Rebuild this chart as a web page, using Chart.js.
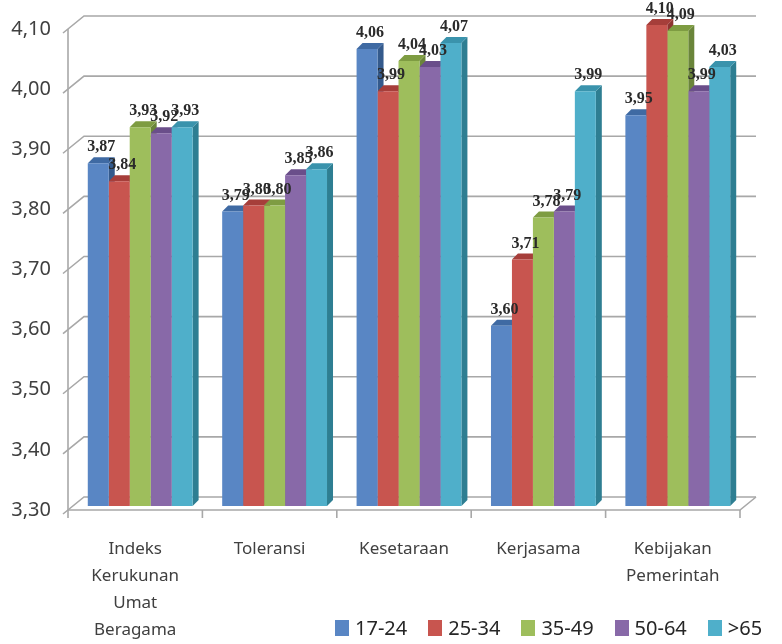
<!DOCTYPE html>
<html><head><meta charset="utf-8">
<script src="https://cdn.jsdelivr.net/npm/chart.js@4"></script>
<style>
html,body{margin:0;padding:0;background:#fff;}
#wrap{position:relative;width:782px;height:644px;overflow:hidden;}
#legend{position:absolute;left:335px;top:617px;display:flex;font-family:'Noto Sans',sans-serif;font-size:20px;line-height:22px;color:#262626;white-space:nowrap;}
.item{display:flex;align-items:center;margin-right:21px;}
.box{width:14px;height:16px;margin-right:6px;}
</style></head><body>
<div id="wrap"><canvas id="c" width="782" height="644"></canvas><div id="legend"></div></div>
<script>
const categories = [['Indeks','Kerukunan','Umat','Beragama'], 'Toleransi', 'Kesetaraan', 'Kerjasama', ['Kebijakan','Pemerintah']];
const seriesNames = ['17-24', '25-34', '35-49', '50-64', '>65'];
const age17_24 = [3.87, 3.79, 4.06, 3.60, 3.95];
const age25_34 = [3.84, 3.80, 3.99, 3.71, 4.10];
const age35_49 = [3.93, 3.80, 4.04, 3.78, 4.09];
const age50_64 = [3.92, 3.85, 4.03, 3.79, 3.99];
const age65 = [3.93, 3.86, 4.07, 3.99, 4.03];
const yMin = 3.30, yMax = 4.10, yStep = 0.10;

const seriesValues = [age17_24, age25_34, age35_49, age50_64, age65];
const frontColors = ['#5986C4', '#C8554F', '#9EBE5C', '#8869A8', '#4FAFCA'];
const capColors   = ['#3F6AA3', '#A63E3A', '#7E9C42', '#6A4E8A', '#3A93AC'];
const sideColors  = ['#345A8C', '#8E3431', '#6A853A', '#5A4276', '#2E7E92'];

const fmt = v => v.toFixed(2).replace('.', ',');
const BAR_D = 6;      // bar depth (px)
const WALL_DX = 16, WALL_DY = -13;
const MID_DX = 5, MID_DY = -4;  // bars stand mid-depth on the 3D floor

const threeD = {
  id: 'threeD',
  beforeDatasetsDraw(chart) {
    const ctx = chart.ctx;
    const {left, right, top, bottom} = chart.chartArea;
    const ys = chart.scales.y;
    ctx.save();
    ctx.strokeStyle = '#A8A8A8';
    ctx.lineWidth = 1.6;
    ctx.beginPath(); ctx.moveTo(left, top); ctx.lineTo(left, bottom); ctx.stroke();
    ys.ticks.forEach(t => {
      const py = ys.getPixelForValue(t.value);
      ctx.beginPath();
      ctx.moveTo(left - 5, py + 4);
      ctx.lineTo(left + WALL_DX, py + WALL_DY);
      ctx.lineTo(right + WALL_DX, py + WALL_DY);
      ctx.stroke();
    });
    ctx.beginPath();
    ctx.moveTo(left, bottom); ctx.lineTo(right, bottom);
    ctx.lineTo(right + WALL_DX, bottom + WALL_DY);
    ctx.stroke();
    const n = chart.data.labels.length;
    for (let i = 0; i <= n; i++) {
      const px = left + (right - left) * i / n;
      ctx.beginPath(); ctx.moveTo(px, bottom); ctx.lineTo(px, bottom + 8); ctx.stroke();
    }
    ctx.restore();
    // shift the bar layer to mid-depth; restored in afterDatasetsDraw
    ctx.save();
    ctx.translate(MID_DX, MID_DY);
    chart.data.datasets.forEach((ds, di) => {
      const meta = chart.getDatasetMeta(di);
      meta.data.forEach(el => {
        const x0 = el.x - el.width / 2, x1 = el.x + el.width / 2;
        const yt = el.y, yb = Math.min(el.base, bottom);
        ctx.fillStyle = sideColors[di];
        ctx.beginPath();
        ctx.moveTo(x1, yt); ctx.lineTo(x1 + BAR_D, yt - BAR_D);
        ctx.lineTo(x1 + BAR_D, yb - BAR_D); ctx.lineTo(x1, yb);
        ctx.closePath(); ctx.fill();
        ctx.fillStyle = capColors[di];
        ctx.beginPath();
        ctx.moveTo(x0, yt); ctx.lineTo(x0 + BAR_D, yt - BAR_D);
        ctx.lineTo(x1 + BAR_D, yt - BAR_D); ctx.lineTo(x1, yt);
        ctx.closePath(); ctx.fill();
      });
    });
  },
  afterDatasetsDraw(chart) {
    const ctx = chart.ctx;
    ctx.font = 'bold 16px "Liberation Serif", serif';
    ctx.fillStyle = '#2A2A2A';
    ctx.textAlign = 'center';
    ctx.textBaseline = 'middle';
    chart.data.datasets.forEach((ds, di) => {
      const meta = chart.getDatasetMeta(di);
      meta.data.forEach((el, i) => {
        ctx.fillText(fmt(ds.data[i]), el.x + 3, el.y - 16);
      });
    });
    ctx.restore();
  }
};

new Chart(document.getElementById('c'), {
  type: 'bar',
  data: {
    labels: categories,
    datasets: seriesNames.map((name, i) => ({
      label: name,
      data: seriesValues[i],
      backgroundColor: frontColors[i],
      borderWidth: 0,
      categoryPercentage: 0.78,
      barPercentage: 1.0
    }))
  },
  options: {
    responsive: false,
    animation: false,
    layout: { padding: { top: 25, right: 42, left: 0, bottom: 0 } },
    plugins: { legend: { display: false }, tooltip: { enabled: false } },
    scales: {
      x: {
        grid: { display: false, drawTicks: false },
        border: { display: false },
        ticks: {
          padding: 26,
          maxRotation: 0,
          autoSkip: false,
          color: '#404040',
          font: { family: 'Noto Sans', size: 17, lineHeight: '27px' }
        },
        afterFit: a => { a.height = 134; }
      },
      y: {
        min: yMin, max: yMax,
        grid: { display: false, drawTicks: false },
        border: { display: false },
        ticks: {
          stepSize: yStep,
          padding: 17,
          color: '#404040',
          font: { family: 'Noto Sans', size: 20 },
          callback: v => fmt(v)
        },
        afterFit: a => { a.width = 68; }
      }
    }
  },
  plugins: [threeD]
});

const leg = document.getElementById('legend');
seriesNames.forEach((name, i) => {
  const it = document.createElement('div'); it.className = 'item';
  const b = document.createElement('div'); b.className = 'box'; b.style.background = frontColors[i];
  const t = document.createElement('span'); t.textContent = name;
  it.appendChild(b); it.appendChild(t); leg.appendChild(it);
});
</script>
</body></html>
